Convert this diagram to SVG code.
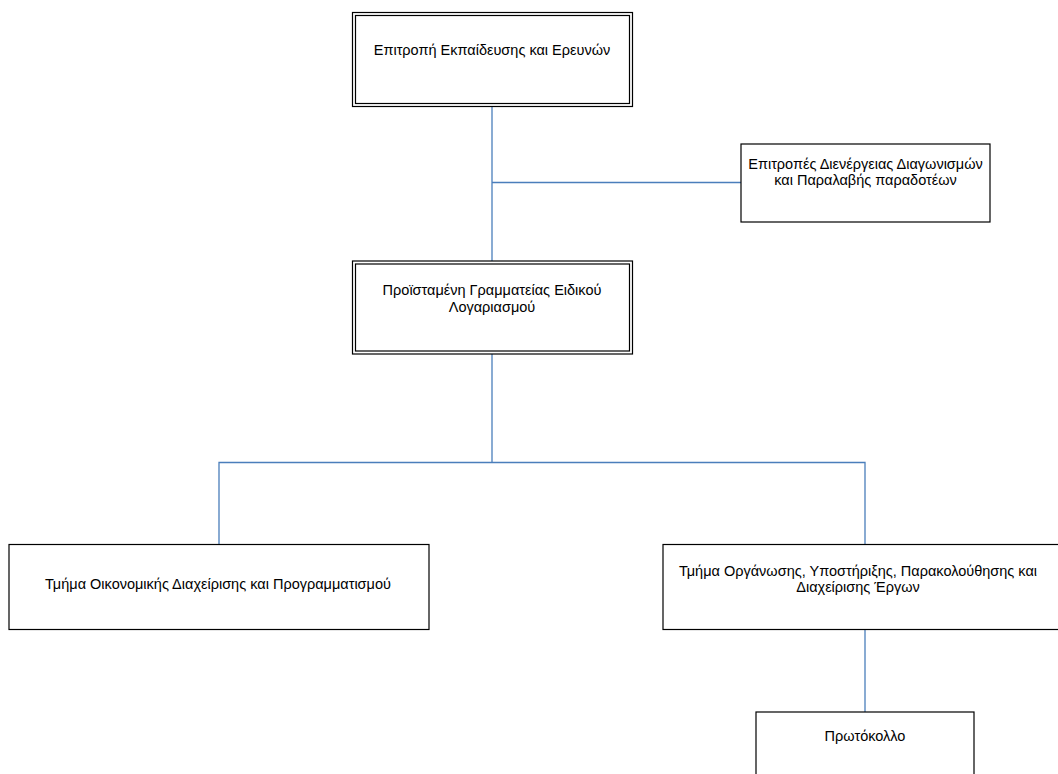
<svg xmlns="http://www.w3.org/2000/svg" width="1058" height="774" viewBox="0 0 1058 774">
<style>
.box{fill:#fff;stroke:#000;stroke-width:1.2}
.inner{fill:none;stroke:#000;stroke-width:1.2}
.conn{fill:none;stroke:#4a7ebb;stroke-width:1.3}
text{font-family:"Liberation Sans",Arial,sans-serif;font-size:14.5px;fill:#000;text-anchor:middle}
</style>
<rect width="1058" height="774" fill="#fff"/>
<g id="connectors">
<path class="conn" d="M492 106V261"/>
<path class="conn" d="M492 182.5H741"/>
<path class="conn" d="M492 354V462.5"/>
<path class="conn" d="M219 544V462.5H865V544"/>
<path class="conn" d="M865 629V712"/>
</g>
<g id="n1">
<rect class="box" x="352.5" y="12.5" width="280" height="94"/>
<rect class="inner" x="355.5" y="15.5" width="274" height="88"/>
<text x="492" y="55">Επιτροπή Εκπαίδευσης και Ερευνών</text>
</g>
<g id="n2">
<rect class="box" x="741" y="144" width="249" height="78"/>
<text x="865.5" y="169">Επιτροπές Διενέργειας Διαγωνισμών</text>
<text x="865.5" y="185">και Παραλαβής παραδοτέων</text>
</g>
<g id="n3">
<rect class="box" x="352.5" y="261" width="280" height="93"/>
<rect class="inner" x="355.5" y="264" width="274" height="87"/>
<text x="492" y="295">Προϊσταμένη Γραμματείας Ειδικού</text>
<text x="492" y="311.5">Λογαριασμού</text>
</g>
<g id="n4">
<rect class="box" x="9" y="544.5" width="420" height="85"/>
<text x="218" y="588.5">Τμήμα Οικονομικής Διαχείρισης και Προγραμματισμού</text>
</g>
<g id="n5">
<rect class="box" x="663" y="544.5" width="410" height="85"/>
<text x="858" y="575.5">Τμήμα Οργάνωσης, Υποστήριξης, Παρακολούθησης και</text>
<text x="858" y="592">Διαχείρισης Έργων</text>
</g>
<g id="n6">
<rect class="box" x="756" y="712" width="218" height="80"/>
<text x="865" y="741">Πρωτόκολλο</text>
</g>
</svg>
